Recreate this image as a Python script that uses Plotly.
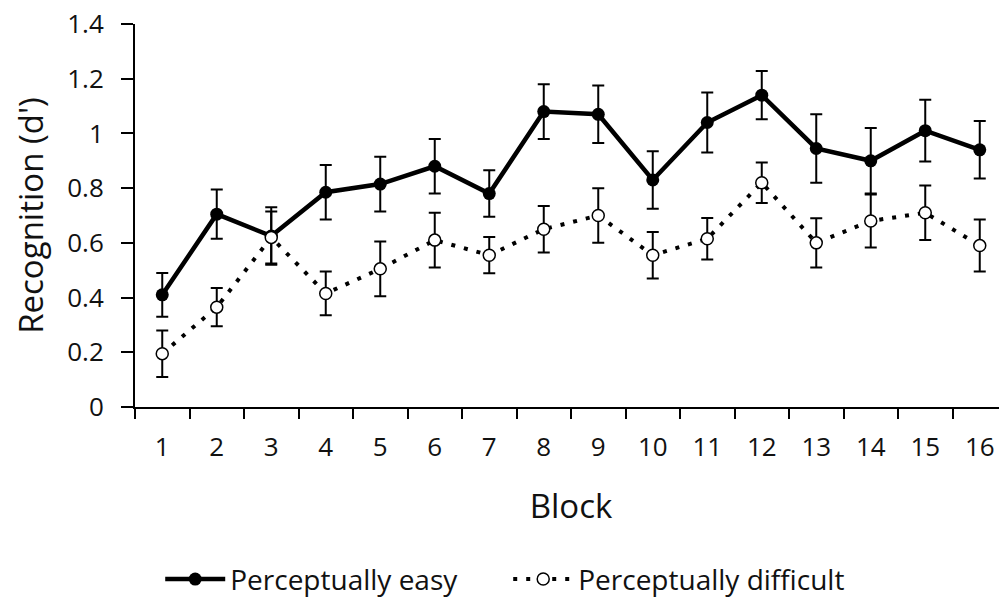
import plotly.graph_objects as go

blocks = [str(i) for i in range(1, 17)]
easy = [0.41, 0.705, 0.625, 0.785, 0.815, 0.88, 0.78, 1.08, 1.07, 0.83, 1.04, 1.14, 0.945, 0.90, 1.01, 0.94]
easy_err = [0.08, 0.09, 0.105, 0.10, 0.10, 0.10, 0.085, 0.10, 0.105, 0.105, 0.11, 0.088, 0.125, 0.12, 0.113, 0.105]
difficult = [0.195, 0.365, 0.62, 0.415, 0.505, 0.61, 0.555, 0.65, 0.70, 0.555, 0.615, 0.82, 0.60, 0.68, 0.71, 0.59]
difficult_err = [0.085, 0.07, 0.095, 0.08, 0.10, 0.10, 0.066, 0.085, 0.10, 0.085, 0.076, 0.074, 0.09, 0.097, 0.10, 0.095]

FONT = "Open Sans"
TXT = "#111111"

fig = go.Figure()
fig.add_trace(go.Scatter(
    x=blocks, y=easy, name="Perceptually easy", mode="lines+markers",
    line=dict(color="black", width=4.5),
    marker=dict(symbol="circle", size=13, color="black"),
    error_y=dict(type="data", array=easy_err, visible=True, color="black", thickness=2, width=6),
))
fig.add_trace(go.Scatter(
    x=blocks, y=difficult, name="Perceptually difficult", mode="lines+markers",
    line=dict(color="black", width=4, dash="4px,9px"),
    marker=dict(symbol="circle", size=12, color="white", line=dict(color="black", width=1.5)),
    error_y=dict(type="data", array=difficult_err, visible=True, color="black", thickness=2, width=6),
))

# the page body keeps its default 8px margin, so the figure is offset by 8px
fig.update_layout(
    width=999, height=590,
    margin=dict(l=127, r=0, t=16, b=191, autoexpand=False),
    paper_bgcolor="white", plot_bgcolor="white",
    font=dict(family=FONT, color=TXT),
    showlegend=True,
    legend=dict(orientation="h", x=0.428, y=-0.45, xanchor="center", yanchor="middle",
                font=dict(size=28, family=FONT, color=TXT), itemwidth=60,
                entrywidth=273, entrywidthmode="pixels",
                bgcolor="rgba(0,0,0,0)"),
)
fig.update_xaxes(
    type="category", range=[-0.5, 15.5], tickson="boundaries", automargin=False,
    showline=True, linecolor="black", linewidth=2,
    ticks="outside", ticklen=10, tickwidth=2, tickcolor="black",
    tickfont=dict(size=26, family=FONT, color=TXT), ticklabelstandoff=16,
    ticklabeloverflow="allow",
    showgrid=False, zeroline=False,
    title=dict(text="Block", font=dict(size=33, family=FONT, color=TXT), standoff=32),
)
fig.update_yaxes(
    range=[0, 1.4], tickvals=[0, 0.2, 0.4, 0.6, 0.8, 1, 1.2, 1.4], automargin=False,
    ticktext=["0", "0.2", "0.4", "0.6", "0.8", "1", "1.2", "1.4"],
    showline=True, linecolor="black", linewidth=2,
    ticks="outside", ticklen=12, tickwidth=2, tickcolor="black",
    tickfont=dict(size=26, family=FONT, color=TXT), ticklabelstandoff=12,
    ticklabeloverflow="allow",
    showgrid=False, zeroline=False,
    title=dict(text="Recognition (d')", font=dict(size=33, family=FONT, color=TXT), standoff=16),
)

fig.write_html("out.html")
